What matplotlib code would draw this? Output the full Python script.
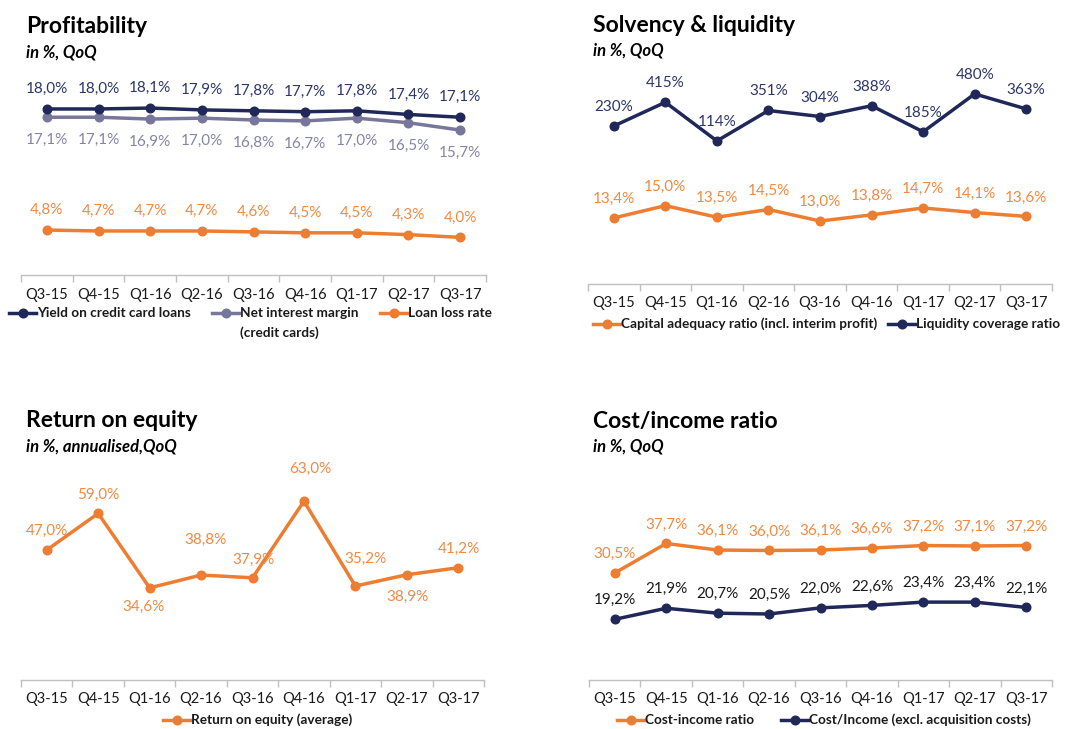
import matplotlib
matplotlib.use("Agg")
import matplotlib.pyplot as plt
from matplotlib.lines import Line2D

plt.rcParams['font.family'] = ['Lato', 'DejaVu Sans']

# ---------------- data ----------------
quarters = ["Q3-15", "Q4-15", "Q1-16", "Q2-16", "Q3-16", "Q4-16", "Q1-17", "Q2-17", "Q3-17"]

yield_cc = [18.0, 18.0, 18.1, 17.9, 17.8, 17.7, 17.8, 17.4, 17.1]
nim_cc = [17.1, 17.1, 16.9, 17.0, 16.8, 16.7, 17.0, 16.5, 15.7]
loan_loss = [4.8, 4.7, 4.7, 4.7, 4.6, 4.5, 4.5, 4.3, 4.0]

car = [13.4, 15.0, 13.5, 14.5, 13.0, 13.8, 14.7, 14.1, 13.6]
lcr = [230, 415, 114, 351, 304, 388, 185, 480, 363]

roe = [47.0, 59.0, 34.6, 38.8, 37.9, 63.0, 35.2, 38.9, 41.2]

cost_income = [30.5, 37.7, 36.1, 36.0, 36.1, 36.6, 37.2, 37.1, 37.2]
cost_income_excl = [19.2, 21.9, 20.7, 20.5, 22.0, 22.6, 23.4, 23.4, 22.1]

# ---------------- style ----------------
W, H = 1080, 729
NAVY = '#1f2858'
GRAY = '#77769b'
ORANGE = '#ed7d31'
NAVY_TXT = '#2c3767'
GRAY_TXT = '#8684a6'
ORANGE_TXT = '#f08a43'
DARK_TXT = '#1a1a1a'
AXIS_C = '#bfbfbf'
LW = 2.5
MS = 6.2
LBL_FS = 11
TICK_FS = 10.5
LEG_FS = 9.8

fig = plt.figure(figsize=(W / 100, H / 100), dpi=100)


def px_axes(x0, x1, ybot, ytop):
    return fig.add_axes([x0 / W, 1 - ybot / H, (x1 - x0) / W, (ybot - ytop) / H])


def style_axes(ax):
    n = len(quarters)
    ax.set_xlim(-0.5, n - 0.5)
    ax.set_xticks(range(n))
    ax.set_xticklabels(quarters, fontsize=TICK_FS, color=DARK_TXT)
    ax.tick_params(axis='x', which='major', length=0, pad=9)
    ax.set_xticks([i - 0.5 for i in range(n + 1)], minor=True)
    ax.tick_params(axis='x', which='minor', length=5, color=AXIS_C, width=1)
    ax.set_yticks([])
    for s in ('top', 'left', 'right'):
        ax.spines[s].set_visible(False)
    ax.spines['bottom'].set_color(AXIS_C)
    ax.spines['bottom'].set_linewidth(1)
    ax.patch.set_alpha(0)


def plot_series(ax, vals, color):
    ax.plot(range(len(vals)), vals, color=color, lw=LW, marker='o', ms=MS,
            solid_capstyle='round', clip_on=False, zorder=3)


def labels(ax, vals, color, offsets, fmt):
    if not isinstance(offsets, list):
        offsets = [(0, offsets)] * len(vals)
    for i, v in enumerate(vals):
        dx, dy = offsets[i]
        ax.annotate(fmt(v), (i, v), xytext=(dx, dy), textcoords='offset pixels',
                    ha='center', va='center', fontsize=LBL_FS, color=color,
                    annotation_clip=False)


pct1 = lambda v: f"{v:.1f}".replace('.', ',') + '%'
pct0 = lambda v: f"{int(v)}%"


def title(x, y_base, t, sub):
    fig.text(x / W, 1 - y_base / H, t, fontsize=16.5, fontweight='bold',
             color='black', va='baseline', ha='left')
    fig.text(x / W, 1 - (y_base + 24) / H, sub, fontsize=12, fontweight='bold',
             fontstyle='italic', color='black', va='baseline', ha='left')


def legend_handle(x_handle, y, color):
    fig.add_artist(Line2D([x_handle / W, (x_handle + 27) / W], [1 - y / H, 1 - y / H],
                          transform=fig.transFigure, color=color, lw=LW))
    fig.add_artist(Line2D([(x_handle + 13.5) / W], [1 - y / H],
                          transform=fig.transFigure, color=color, marker='o',
                          ms=MS, lw=0))


def legend_item(x_handle, y, text, color):
    legend_handle(x_handle, y, color)
    fig.text((x_handle + 28) / W, 1 - y / H, text, fontsize=LEG_FS, fontweight='bold',
             color=DARK_TXT, va='center', ha='left')


# ---------------- Panel 1: Profitability ----------------
title(26, 33, "Profitability", "in %, QoQ")
ax1 = px_axes(21, 486, 275, 92)
style_axes(ax1)
ax1.set_ylim(-0.1, 19.85)
plot_series(ax1, nim_cc, GRAY)
plot_series(ax1, yield_cc, NAVY)
plot_series(ax1, loan_loss, ORANGE)
labels(ax1, yield_cc, NAVY_TXT, 20, pct1)
labels(ax1, nim_cc, GRAY_TXT, -23, pct1)
labels(ax1, loan_loss, ORANGE_TXT, 20, pct1)
legend_item(9, 313, "Yield on credit card loans", NAVY)
legend_item(212, 313, "Net interest margin", GRAY)
fig.text((212 + 28) / W, 1 - 333 / H, "(credit cards)", fontsize=LEG_FS, fontweight='bold',
         color=DARK_TXT, va='center', ha='left')
legend_item(380, 313, "Loan loss rate", ORANGE)

# ---------------- Panel 2: Solvency & liquidity ----------------
title(593, 32, "Solvency & liquidity", "in %, QoQ")
ax2 = px_axes(588, 1052, 284, 92)
style_axes(ax2)
ax2.set_ylim(4.8, 29.8)
ax2b = ax2.twinx()
ax2b.set_ylim(-1000, 495)
ax2b.axis('off')
plot_series(ax2, car, ORANGE)
plot_series(ax2b, lcr, NAVY)
labels(ax2, car, ORANGE_TXT, 19, pct1)
labels(ax2b, lcr, NAVY_TXT, 19, pct0)
legend_item(593, 324, "Capital adequacy ratio (incl. interim profit)", ORANGE)
legend_item(888, 324, "Liquidity coverage ratio", NAVY)

# ---------------- Panel 3: Return on equity ----------------
title(26, 427, "Return on equity", "in %, annualised,QoQ")
ax3 = px_axes(21, 484, 680, 482)
style_axes(ax3)
ax3.set_ylim(4.4, 69.3)
plot_series(ax3, roe, ORANGE)
roe_offsets = [(0, 19), (0, 19), (-6, -19), (4, 35), (1, 18), (6, 32), (10, 27), (1, -22), (1, 19)]
labels(ax3, roe, ORANGE_TXT, roe_offsets, pct1)
legend_item(163, 720, "Return on equity (average)", ORANGE)

# ---------------- Panel 4: Cost/income ratio ----------------
title(593, 428, "Cost/income ratio", "in %, QoQ")
ax4 = px_axes(589, 1052, 680, 482)
style_axes(ax4)
ax4.set_ylim(4.4, 52.7)
plot_series(ax4, cost_income, ORANGE)
plot_series(ax4, cost_income_excl, NAVY)
labels(ax4, cost_income, ORANGE_TXT, 19, pct1)
labels(ax4, cost_income_excl, DARK_TXT, 19, pct1)
legend_item(617, 720, "Cost-income ratio", ORANGE)
legend_item(781, 720, "Cost/Income (excl. acquisition costs)", NAVY)

fig.savefig("out.png", dpi=100)
